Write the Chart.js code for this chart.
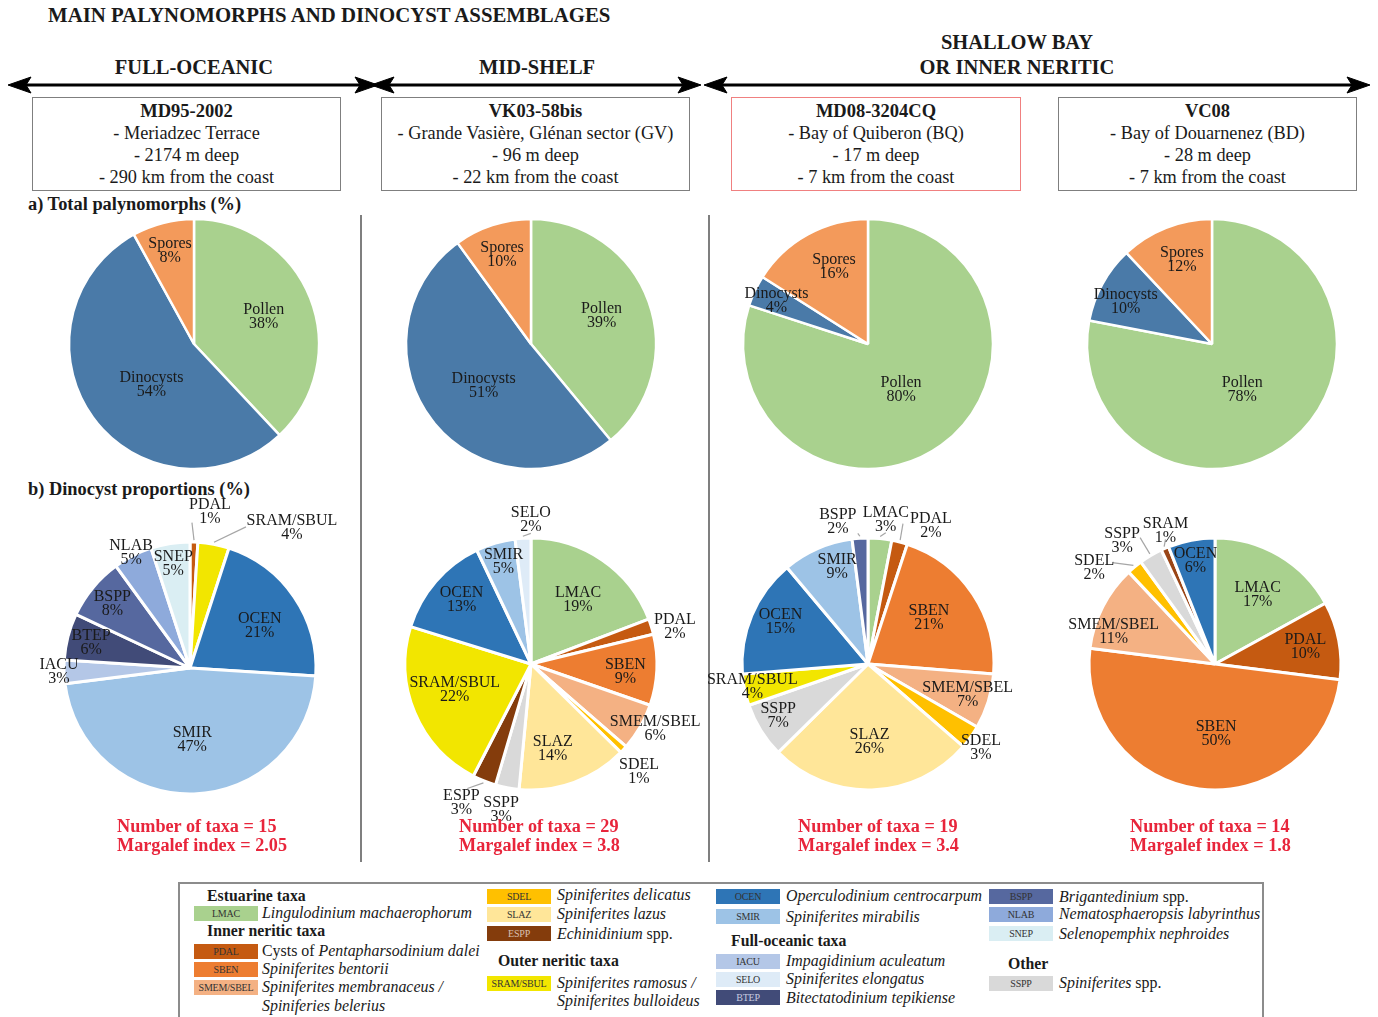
<!DOCTYPE html>
<html>
<head>
<meta charset="utf-8">
<script src="https://cdn.jsdelivr.net/npm/chart.js@4.4.0/dist/chart.umd.min.js"></script>
<style>
body { margin: 0; background: #fff; font-family: "Liberation Serif", "Times New Roman", serif; color: #1a1a1a; }
#page { position: relative; width: 1378px; height: 1017px; overflow: hidden; }
.t { position: absolute; white-space: nowrap; }
.hd { font-weight: bold; font-size: 20.5px; line-height: 24px; text-align: center; width: 400px; }
.sec { font-weight: bold; font-size: 18.4px; line-height: 20px; }
.box { position: absolute; top: 97px; height: 94px; border: 1px solid #7f7f7f; box-sizing: border-box; text-align: center; font-size: 18.3px; line-height: 22px; padding-top: 2px; }
.box b { font-size: 18.5px; }
.pie { position: absolute; width: 360px; height: 360px; }
.red { color: #e8253b; font-weight: bold; font-size: 18.2px; line-height: 19px; }
.sw { position: absolute; width: 64px; height: 15px; font-size: 10px; line-height: 15px; text-align: center; color: #333; letter-spacing: -0.2px; }
.lt { position: absolute; font-size: 15.9px; font-style: italic; white-space: nowrap; line-height: 18px; }
.lt .n { font-style: normal; }
.lh { position: absolute; font-size: 15.8px; font-weight: bold; white-space: nowrap; line-height: 18px; }
#legend { position: absolute; left: 178px; top: 882px; width: 1086px; height: 150px; border: 2px solid #8c8c8c; box-sizing: border-box; }
</style>
</head>
<body>
<div id="page">
  <svg width="1378" height="1017" style="position:absolute;left:0;top:0">
    <g fill="#000" stroke="#000">
      <line x1="20" y1="85" x2="366" y2="85" stroke-width="3"/>
      <polygon points="8,85 31,77 26,85 31,93" />
      <polygon points="378,85 355,77 360,85 355,93" />
      <line x1="383" y1="85" x2="689" y2="85" stroke-width="3"/>
      <polygon points="371,85 394,77 389,85 394,93" />
      <polygon points="701,85 678,77 683,85 678,93" />
      <line x1="716" y1="85" x2="1358" y2="85" stroke-width="3"/>
      <polygon points="704,85 727,77 722,85 727,93" />
      <polygon points="1370,85 1347,77 1352,85 1347,93" />
    </g>
    <line x1="361" y1="215" x2="361" y2="862" stroke="#555" stroke-width="1.5"/>
    <line x1="709" y1="215" x2="709" y2="862" stroke="#555" stroke-width="1.5"/>
  </svg>

  <div class="t" style="left:48px;top:4px;font-weight:bold;font-size:20.8px;line-height:22px">MAIN PALYNOMORPHS AND DINOCYST ASSEMBLAGES</div>
  <div class="t hd" style="left:-6px;top:55px">FULL-OCEANIC</div>
  <div class="t hd" style="left:337px;top:55px">MID-SHELF</div>
  <div class="t hd" style="left:817px;top:30px">SHALLOW BAY</div>
  <div class="t hd" style="left:817px;top:55px">OR INNER NERITIC</div>

  <div class="box" style="left:32px;width:309px"><b>MD95-2002</b><br>- Meriadzec Terrace<br>- 2174 m deep<br>- 290 km from the coast</div>
  <div class="box" style="left:381px;width:309px"><b>VK03-58bis</b><br>- Grande Vasière, Glénan sector (GV)<br>- 96 m deep<br>- 22 km from the coast</div>
  <div class="box" style="left:731px;width:290px;border-color:#f08080"><b>MD08-3204CQ</b><br>- Bay of Quiberon (BQ)<br>- 17 m deep<br>- 7 km from the coast</div>
  <div class="box" style="left:1058px;width:299px"><b>VC08</b><br>- Bay of Douarnenez (BD)<br>- 28 m deep<br>- 7 km from the coast</div>

  <div class="t sec" style="left:28px;top:194px">a) Total palynomorphs (%)</div>
  <div class="t sec" style="left:28px;top:479px">b) Dinocyst proportions (%)</div>

  <div class="pie" style="left:14px;top:164px"><canvas id="a1" width="360" height="360"></canvas></div>
  <div class="pie" style="left:351px;top:164px"><canvas id="a2" width="360" height="360"></canvas></div>
  <div class="pie" style="left:688px;top:164px"><canvas id="a3" width="360" height="360"></canvas></div>
  <div class="pie" style="left:1032px;top:164px"><canvas id="a4" width="360" height="360"></canvas></div>
  <div class="pie" style="left:10px;top:488px"><canvas id="b1" width="360" height="360"></canvas></div>
  <div class="pie" style="left:351px;top:484px"><canvas id="b2" width="360" height="360"></canvas></div>
  <div class="pie" style="left:688px;top:484px"><canvas id="b3" width="360" height="360"></canvas></div>
  <div class="pie" style="left:1035px;top:484px"><canvas id="b4" width="360" height="360"></canvas></div>

  <div class="t red" style="left:117px;top:817px">Number of taxa = 15<br>Margalef index = 2.05</div>
  <div class="t red" style="left:459px;top:817px">Number of taxa = 29<br>Margalef index = 3.8</div>
  <div class="t red" style="left:798px;top:817px">Number of taxa = 19<br>Margalef index = 3.4</div>
  <div class="t red" style="left:1130px;top:817px">Number of taxa = 14<br>Margalef index = 1.8</div>

  <div id="legend"></div>
  <div class="lh" style="left:207px;top:887px">Estuarine taxa</div>
  <div class="sw" id="sw-LMAC" style="left:194px;top:906px">LMAC</div>
  <div class="lt" style="left:262px;top:904px">Lingulodinium machaerophorum</div>
  <div class="lh" style="left:207px;top:922px">Inner neritic taxa</div>
  <div class="sw" id="sw-PDAL" style="left:194px;top:944px">PDAL</div>
  <div class="lt" style="left:262px;top:942px"><span class="n">Cysts of </span>Pentapharsodinium dalei</div>
  <div class="sw" id="sw-SBEN" style="left:194px;top:962px">SBEN</div>
  <div class="lt" style="left:262px;top:960px">Spiniferites bentorii</div>
  <div class="sw" id="sw-SMEM/SBEL" style="left:194px;top:980px">SMEM/SBEL</div>
  <div class="lt" style="left:262px;top:978px">Spiniferites membranaceus /</div>
  <div class="lt" style="left:262px;top:997px">Spiniferies belerius</div>

  <div class="sw" id="sw-SDEL" style="left:487px;top:889px">SDEL</div>
  <div class="lt" style="left:557px;top:886px">Spiniferites delicatus</div>
  <div class="sw" id="sw-SLAZ" style="left:487px;top:907px">SLAZ</div>
  <div class="lt" style="left:557px;top:905px">Spiniferites lazus</div>
  <div class="sw" id="sw-ESPP" style="left:487px;top:926px;color:#d8c0b0">ESPP</div>
  <div class="lt" style="left:557px;top:925px">Echinidinium<span class="n"> spp.</span></div>
  <div class="lh" style="left:498px;top:952px">Outer neritic taxa</div>
  <div class="sw" id="sw-SRAM/SBUL" style="left:487px;top:976px">SRAM/SBUL</div>
  <div class="lt" style="left:557px;top:974px">Spiniferites ramosus /</div>
  <div class="lt" style="left:557px;top:992px">Spiniferites bulloideus</div>

  <div class="sw" id="sw-OCEN" style="left:716px;top:889px">OCEN</div>
  <div class="lt" style="left:786px;top:887px">Operculodinium centrocarpum</div>
  <div class="sw" id="sw-SMIR" style="left:716px;top:909px">SMIR</div>
  <div class="lt" style="left:786px;top:908px">Spiniferites mirabilis</div>
  <div class="lh" style="left:731px;top:932px">Full-oceanic taxa</div>
  <div class="sw" id="sw-IACU" style="left:716px;top:954px">IACU</div>
  <div class="lt" style="left:786px;top:952px">Impagidinium aculeatum</div>
  <div class="sw" id="sw-SELO" style="left:716px;top:972px">SELO</div>
  <div class="lt" style="left:786px;top:970px">Spiniferites elongatus</div>
  <div class="sw" id="sw-BTEP" style="left:716px;top:990px;color:#c8cce0">BTEP</div>
  <div class="lt" style="left:786px;top:989px">Bitectatodinium tepikiense</div>

  <div class="sw" id="sw-BSPP" style="left:989px;top:889px">BSPP</div>
  <div class="lt" style="left:1059px;top:888px">Brigantedinium<span class="n"> spp.</span></div>
  <div class="sw" id="sw-NLAB" style="left:989px;top:907px">NLAB</div>
  <div class="lt" style="left:1059px;top:905px">Nematosphaeropsis labyrinthus</div>
  <div class="sw" id="sw-SNEP" style="left:989px;top:926px">SNEP</div>
  <div class="lt" style="left:1059px;top:925px">Selenopemphix nephroides</div>
  <div class="lh" style="left:1008px;top:955px">Other</div>
  <div class="sw" id="sw-SSPP" style="left:989px;top:976px">SSPP</div>
  <div class="lt" style="left:1059px;top:974px">Spiniferites<span class="n"> spp.</span></div>
</div>

<script>
// total palynomorphs (%)
const palyLabels = ['Pollen', 'Dinocysts', 'Spores'];
const palyMD95 = [38, 54, 8];
const palyVK03 = [39, 51, 10];
const palyMD08 = [80, 4, 16];
const palyVC08 = [78, 10, 12];

// dinocyst proportions (%), clockwise from the top
const dinoTaxaMD95 = ['PDAL', 'SRAM/SBUL', 'OCEN', 'SMIR', 'IACU', 'BTEP', 'BSPP', 'NLAB', 'SNEP'];
const dinoMD95 = [1, 4, 21, 47, 3, 6, 8, 5, 5];
const dinoTaxaVK03 = ['LMAC', 'PDAL', 'SBEN', 'SMEM/SBEL', 'SDEL', 'SLAZ', 'SSPP', 'ESPP', 'SRAM/SBUL', 'OCEN', 'SMIR', 'SELO'];
const dinoVK03 = [19, 2, 9, 6, 1, 14, 3, 3, 22, 13, 5, 2];
const dinoTaxaMD08 = ['LMAC', 'PDAL', 'SBEN', 'SMEM/SBEL', 'SDEL', 'SLAZ', 'SSPP', 'SRAM/SBUL', 'OCEN', 'SMIR', 'BSPP'];
const dinoMD08 = [3, 2, 21, 7, 3, 26, 7, 4, 15, 9, 2];
const dinoTaxaVC08 = ['LMAC', 'PDAL', 'SBEN', 'SMEM/SBEL', 'SDEL', 'SSPP', 'SRAM', 'OCEN'];
const dinoVC08 = [17, 10, 50, 11, 2, 3, 1, 6];

const palyColors = ['#a9d18e', '#4a7aa8', '#f39a5b'];
const taxonColors = {
    'LMAC': '#a9d18e', 'PDAL': '#c55a11', 'SBEN': '#ed7d31', 'SMEM/SBEL': '#f4b183',
    'SDEL': '#ffc000', 'SLAZ': '#ffe699', 'ESPP': '#843c0c', 'SRAM/SBUL': '#f2e600',
    'SRAM': '#9a4516', 'OCEN': '#2e75b6', 'SMIR': '#9dc3e6', 'IACU': '#b4c7e7',
    'SELO': '#deebf7', 'BTEP': '#414b78', 'BSPP': '#56689f', 'NLAB': '#8eaadb',
    'SNEP': '#daeef3', 'SSPP': '#d9d9d9'
};

// label placement per slice: [radius factor, dx, dy, leader end dx, leader end dy]
const placeA1 = [[0.6, 0, 0], [0.47, 5, 6], [0.77, 0, 0]];
const placeA2 = [[0.6, 0, -3], [0.5, 2, 3], [0.75, 0, 0]];
const placeA3 = [[0.45, 0, 0], [0.81, 0, 0], [0.68, 7, -3]];
const placeA4 = [[0.43, -4, 4], [0.77, -2, 4], [0.72, 3, -1]];
const placeB1 = [[1.25, 15, 1, -18, 11], [1.1, 76, -4, -46, -1], [0.65, 2, 4], [0.57, 0, 0], [1.04, 0, 0],
                 [0.81, 0, 0], [0.8, 0, 0], [1.03, 0, 0], [0.85, 0, 2]];
const placeB2 = [[0.63, 2, 1], [1.18, 2, 7], [0.75, 0, 3], [1.11, 3, -5], [1.21, -4, 4], [0.69, -8, 3],
                 [1.17, -2, 1], [1.21, -13, -3, 6, -14], [0.63, -3, -5], [0.75, 2, -2], [0.83, 2, -2], [1.15, 9, 0, 0, 14]];
const placeB3 = [[1.15, 4, 0, 0, 13], [1.2, 25, 8, -28, -2], [0.6, -2, -4], [0.82, 1, 0], [1.12, -2, 2], [0.62, -1, 0],
                 [0.82, -2, -3], [0.93, -1, -1], [0.77, 2, -5], [0.81, 10, -4], [1.15, -21, 2, 20, 12]];
const placeB4 = [[0.65, 1, 1], [0.73, 0, 0], [0.56, 10, 0], [0.84, -7, 16], [1.23, -22, 23, 18, -5],
                 [1.23, -14, 10, 18, -3], [1.13, 7, -3, 0, 9], [0.83, 0, 0]];

const pieLabels = {
    id: 'pieLabels',
    afterDatasetsDraw(chart, args, opts) {
        const ctx = chart.ctx;
        const meta = chart.getDatasetMeta(0);
        const values = chart.data.datasets[0].data;
        ctx.save();
        ctx.font = '16px "Liberation Serif"';
        ctx.fillStyle = '#1a1a1a';
        ctx.textAlign = 'center';
        ctx.textBaseline = 'middle';
        ctx.strokeStyle = '#a6a6a6';
        ctx.lineWidth = 1.2;
        meta.data.forEach((arc, i) => {
            const p = arc.getProps(['x', 'y', 'startAngle', 'endAngle', 'outerRadius'], true);
            const mid = (p.startAngle + p.endAngle) / 2;
            const s = opts.place[i];
            const d = p.outerRadius * s[0];
            const lx = p.x + Math.cos(mid) * d + s[1];
            const ly = p.y + Math.sin(mid) * d + s[2];
            if (s.length > 3) {
                ctx.beginPath();
                ctx.moveTo(p.x + Math.cos(mid) * (p.outerRadius + 2), p.y + Math.sin(mid) * (p.outerRadius + 2));
                ctx.lineTo(lx + s[3], ly + s[4]);
                ctx.stroke();
            }
            ctx.fillText(chart.data.labels[i], lx, ly - 7);
            ctx.fillText(values[i] + '%', lx, ly + 7);
        });
        ctx.restore();
    }
};

function makePie(id, labels, values, colors, radius, border, place) {
    new Chart(document.getElementById(id), {
        type: 'pie',
        data: {
            labels: labels,
            datasets: [{ data: values, backgroundColor: colors, borderColor: '#fff', borderWidth: border }]
        },
        options: {
            responsive: false,
            animation: false,
            radius: radius,
            layout: { padding: 0 },
            events: [],
            plugins: {
                legend: { display: false },
                tooltip: { enabled: false },
                pieLabels: { place: place }
            }
        },
        plugins: [pieLabels]
    });
}

makePie('a1', palyLabels, palyMD95, palyColors, 125, 2.5, placeA1);
makePie('a2', palyLabels, palyVK03, palyColors, 125, 2.5, placeA2);
makePie('a3', palyLabels, palyMD08, palyColors, 125, 2.5, placeA3);
makePie('a4', palyLabels, palyVC08, palyColors, 125, 2.5, placeA4);

const colorsFor = taxa => taxa.map(t => taxonColors[t]);
makePie('b1', dinoTaxaMD95, dinoMD95, colorsFor(dinoTaxaMD95), 126, 3, placeB1);
makePie('b2', dinoTaxaVK03, dinoVK03, colorsFor(dinoTaxaVK03), 126, 3, placeB2);
makePie('b3', dinoTaxaMD08, dinoMD08, colorsFor(dinoTaxaMD08), 126, 3, placeB3);
makePie('b4', dinoTaxaVC08, dinoVC08, colorsFor(dinoTaxaVC08), 126, 3, placeB4);

// legend swatches take the same taxon colours
Object.keys(taxonColors).forEach(t => {
    const el = document.getElementById('sw-' + t);
    if (el) el.style.background = taxonColors[t];
});
</script>
</body>
</html>
